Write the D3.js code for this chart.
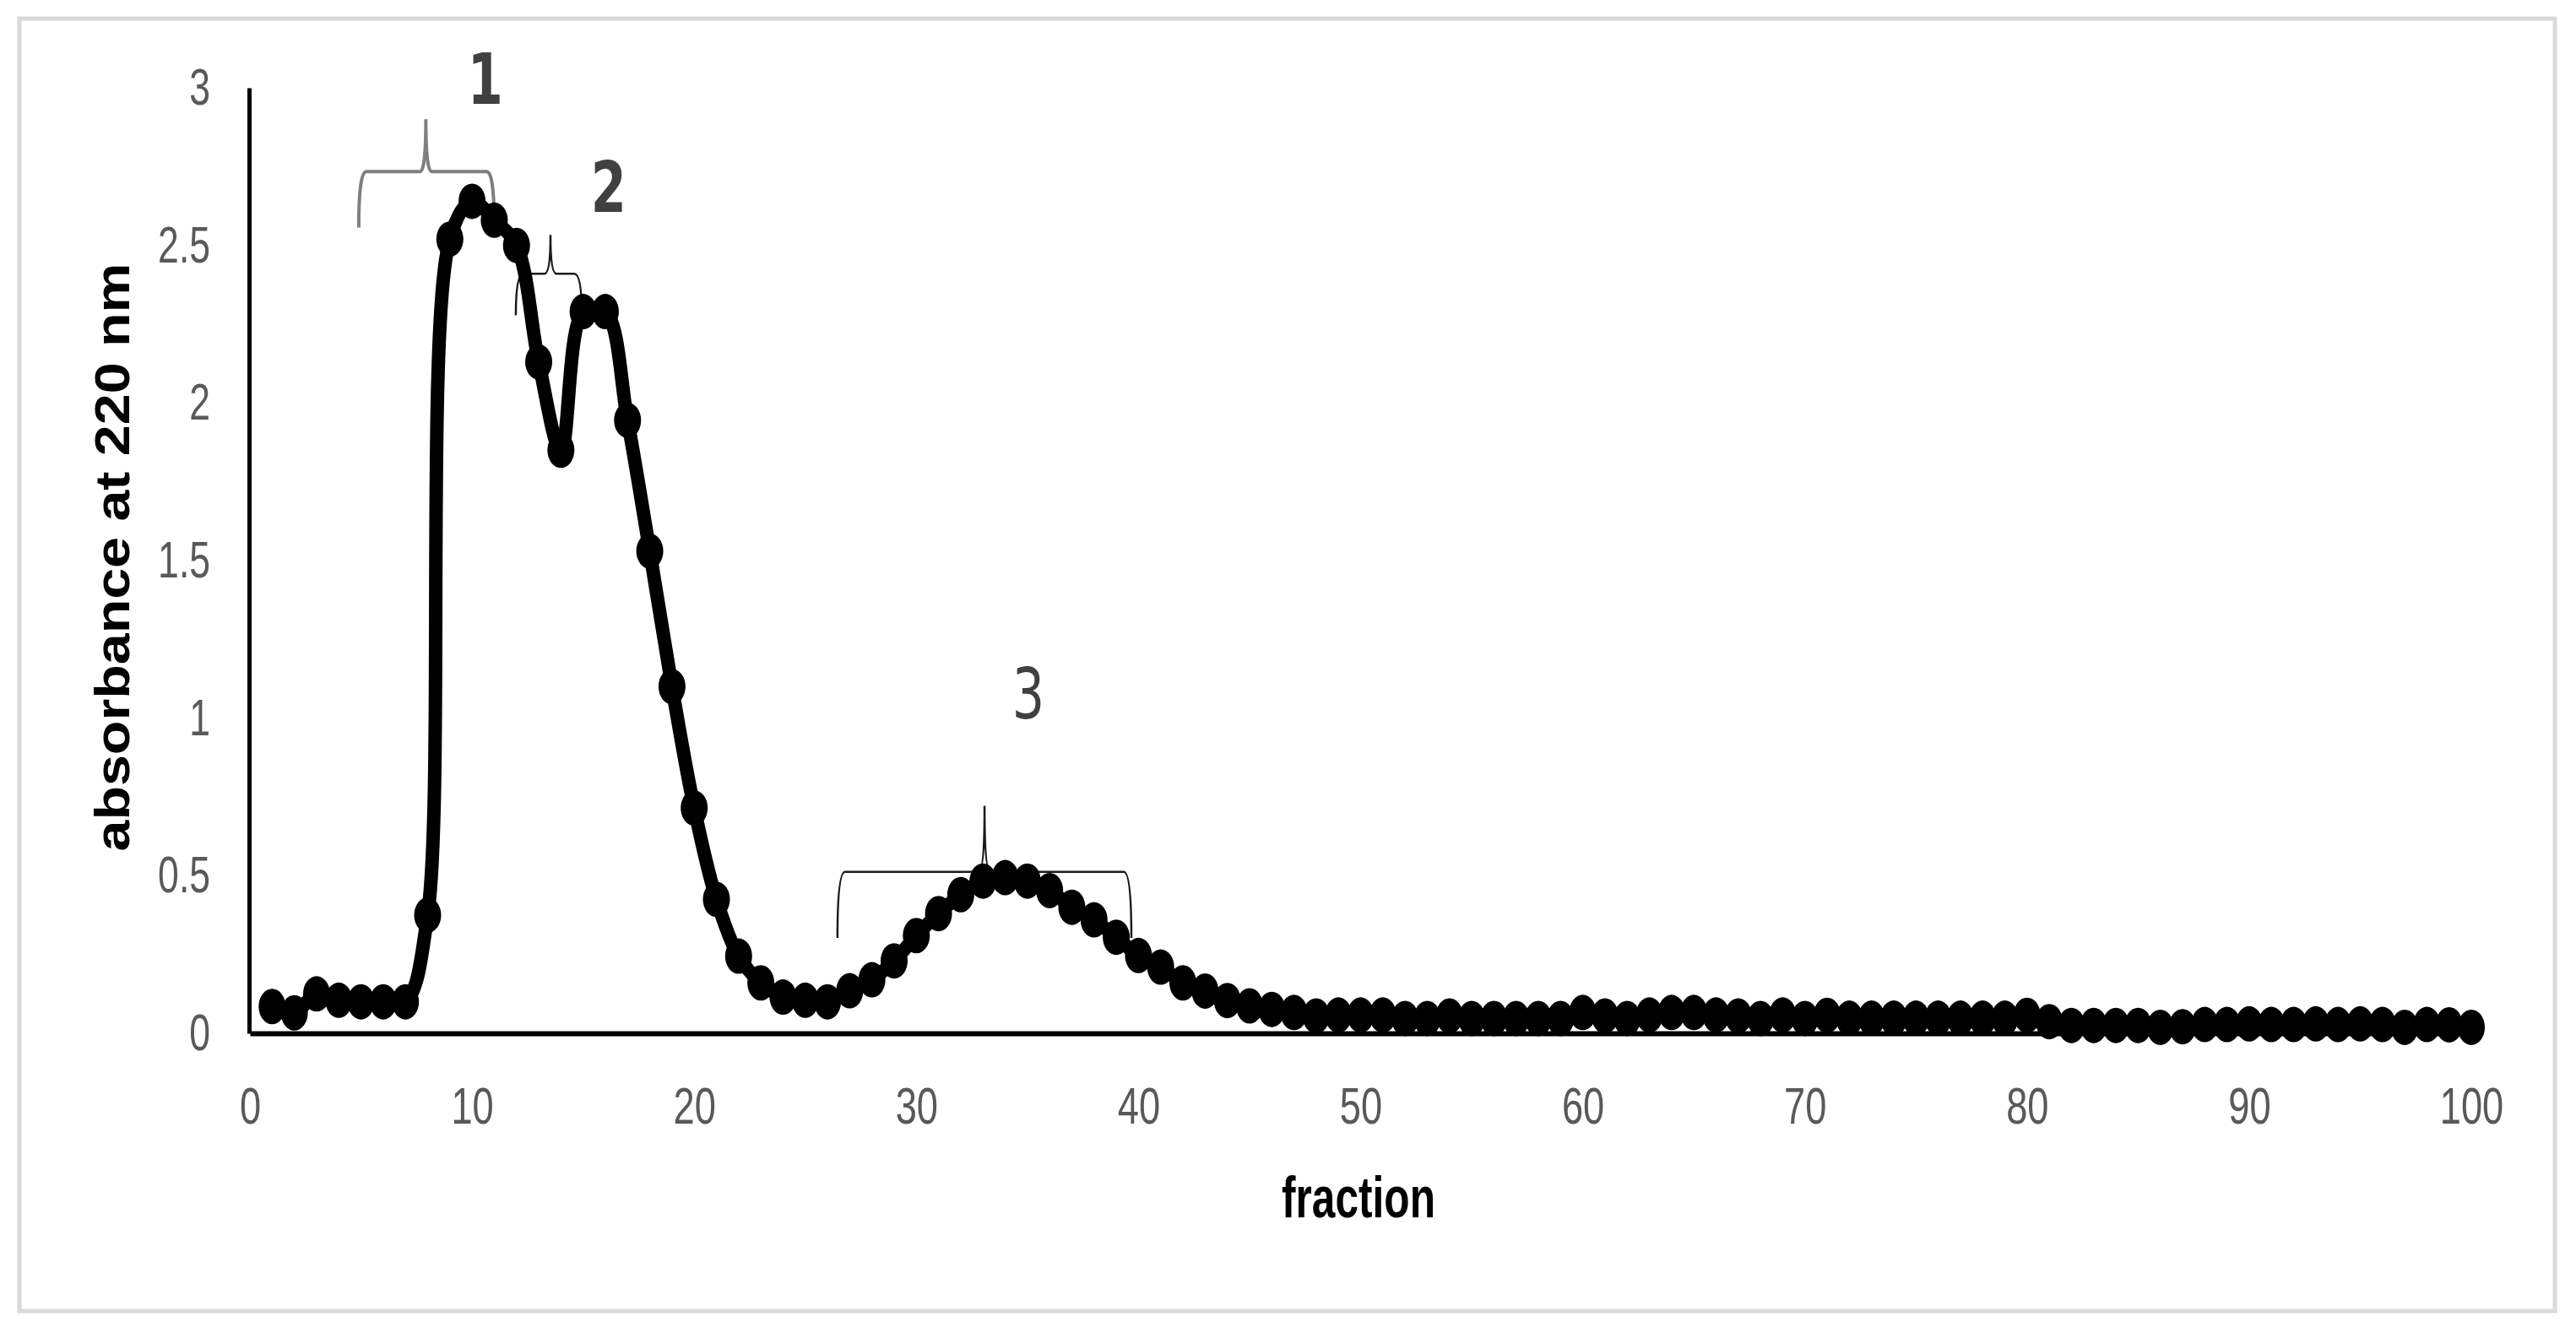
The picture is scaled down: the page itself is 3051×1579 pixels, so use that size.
<!DOCTYPE html>
<html>
<head>
<meta charset="utf-8">
<script src="https://cdn.jsdelivr.net/npm/d3@7/dist/d3.min.js"></script>
<style>
body { margin: 0; background: #fff; }
</style>
</head>
<body>
<script>
var w = 3051; // width of the picture
var h = 1579; // height of the picture

// fraction numbers (x) and absorbance at 220 nm (y)
var fractions = [
    1, 2, 3, 4, 5, 6, 7, 8, 9, 10,
    11, 12, 13, 14, 15, 16, 17, 18, 19, 20,
    21, 22, 23, 24, 25, 26, 27, 28, 29, 30,
    31, 32, 33, 34, 35, 36, 37, 38, 39, 40,
    41, 42, 43, 44, 45, 46, 47, 48, 49, 50,
    51, 52, 53, 54, 55, 56, 57, 58, 59, 60,
    61, 62, 63, 64, 65, 66, 67, 68, 69, 70,
    71, 72, 73, 74, 75, 76, 77, 78, 79, 80,
    81, 82, 83, 84, 85, 86, 87, 88, 89, 90,
    91, 92, 93, 94, 95, 96, 97, 98, 99, 100
];
var absorbance = [
    0.085, 0.065, 0.125, 0.105, 0.10, 0.10, 0.10, 0.375, 2.52, 2.64,
    2.58, 2.50, 2.13, 1.85, 2.29, 2.29, 1.945, 1.53, 1.10, 0.715,
    0.425, 0.245, 0.16, 0.115, 0.105, 0.10, 0.135, 0.17, 0.23, 0.31,
    0.38, 0.44, 0.483, 0.494, 0.483, 0.453, 0.40, 0.36, 0.305, 0.247,
    0.21, 0.16, 0.134, 0.104, 0.087, 0.076, 0.066, 0.055, 0.058, 0.058,
    0.058, 0.047, 0.047, 0.055, 0.047, 0.047, 0.047, 0.047, 0.047, 0.066,
    0.055, 0.047, 0.058, 0.066, 0.066, 0.058, 0.055, 0.047, 0.058, 0.047,
    0.057, 0.048, 0.048, 0.048, 0.048, 0.048, 0.048, 0.048, 0.048, 0.057,
    0.037, 0.025, 0.025, 0.025, 0.025, 0.019, 0.021, 0.028, 0.028, 0.030,
    0.028, 0.028, 0.030, 0.028, 0.030, 0.028, 0.019, 0.028, 0.027, 0.019
];

// axis ticks
var xTicks = [0, 10, 20, 30, 40, 50, 60, 70, 80, 90, 100];
var yTicks = [0, 0.5, 1, 1.5, 2, 2.5, 3];

// peak labels and their brackets (in data units)
var peakLabels = ["1", "2", "3"];
var labelX = [10.6, 16.15, 35.04];
var labelY = [2.95, 2.605, 0.998];
var braceFrom = [4.9, 11.97, 26.45];
var braceTo = [11.0, 14.94, 39.68];
var braceTip = [7.92, 13.53, 33.07];
var braceTop = [2.734, 2.41, 0.5125];
var bracePeak = [2.90, 2.533, 0.722];
var braceFoot = [2.557, 2.278, 0.303];

var data = fractions.map(function(f, i) { return { x: f, y: absorbance[i] }; });

// scales
var xScale = d3.scaleLinear().domain([0, 100]).range([296, 2927]);
var yScale = d3.scaleLinear().domain([0, 3]).range([1224, 104]);

var svg = d3.select("body")
    .append("svg")
    .attr("width", w)
    .attr("height", h);

svg.append("rect")
    .attr("width", w)
    .attr("height", h)
    .attr("fill", "#fff");

// light grey frame round the chart
svg.append("rect")
    .attr("x", 23)
    .attr("y", 22)
    .attr("width", 3003)
    .attr("height", 1531)
    .attr("fill", "none")
    .attr("stroke", "#d9d9d9")
    .attr("stroke-width", 5);

// y axis
var yAxis = d3.axisLeft(yScale)
    .tickValues(yTicks)
    .tickSize(0)
    .tickFormat(function(d) { return d; });

var gy = svg.append("g")
    .attr("transform", "translate(295,0)")
    .call(yAxis);
gy.select(".domain").attr("stroke", "#000").attr("stroke-width", 5);
gy.selectAll("text")
    .attr("x", -63)
    .attr("transform", "scale(0.73,1)")
    .attr("fill", "#595959")
    .style("font-family", "'Liberation Sans', Arial, sans-serif")
    .style("font-size", "61px");

// x axis
var xAxis = d3.axisBottom(xScale)
    .tickValues(xTicks)
    .tickSize(0)
    .tickFormat(function(d) { return d; });

var gx = svg.append("g")
    .attr("transform", "translate(0," + yScale(0) + ")")
    .call(xAxis);
gx.select(".domain").attr("stroke", "#000").attr("stroke-width", 6);
gx.selectAll("text")
    .attr("y", 63)
    .attr("transform", "scale(0.73,1)")
    .attr("fill", "#595959")
    .style("font-family", "'Liberation Sans', Arial, sans-serif")
    .style("font-size", "62px");

// axis titles
svg.append("text")
    .attr("transform", "translate(153,660) rotate(-90)")
    .attr("text-anchor", "middle")
    .attr("textLength", 697)
    .attr("lengthAdjust", "spacingAndGlyphs")
    .style("font-family", "'Liberation Sans', Arial, sans-serif")
    .style("font-weight", "bold")
    .style("font-size", "57px")
    .text("absorbance at 220 nm");

svg.append("text")
    .attr("x", 1609)
    .attr("y", 1442)
    .attr("text-anchor", "middle")
    .attr("textLength", 182)
    .attr("lengthAdjust", "spacingAndGlyphs")
    .style("font-family", "'Liberation Sans', Arial, sans-serif")
    .style("font-weight", "bold")
    .style("font-size", "68px")
    .text("fraction");

// brackets over the peaks
function bracePath(i) {
    var x0 = xScale(braceFrom[i]), x1 = xScale(braceTo[i]), xm = xScale(braceTip[i]);
    var yT = yScale(braceTop[i]), yP = yScale(bracePeak[i]), yB = yScale(braceFoot[i]);
    var c = 9, d = 7;
    return "M" + x0 + "," + yB +
        " Q" + x0 + "," + yT + " " + (x0 + c) + "," + yT +
        " L" + (xm - d) + "," + yT +
        " Q" + xm + "," + yT + " " + xm + "," + yP +
        " Q" + xm + "," + yT + " " + (xm + d) + "," + yT +
        " L" + (x1 - c) + "," + yT +
        " Q" + x1 + "," + yT + " " + x1 + "," + yB;
}

svg.selectAll(".brace")
    .data(peakLabels)
    .join("path")
    .attr("class", "brace")
    .attr("d", function(d, i) { return bracePath(i); })
    .attr("fill", "none")
    .attr("stroke", function(d, i) { return i === 0 ? "#7f7f7f" : "#1a1a1a"; })
    .attr("stroke-width", function(d, i) { return i === 0 ? 4 : 2.5; });

svg.selectAll(".peak-label")
    .data(peakLabels)
    .join("text")
    .attr("class", "peak-label")
    .attr("transform", function(d, i) {
        return "translate(" + xScale(labelX[i]) + "," + yScale(labelY[i]) + ") scale(0.72,1)";
    })
    .attr("text-anchor", "middle")
    .attr("fill", "#404040")
    .style("font-family", "'DejaVu Sans', sans-serif")
    .style("font-weight", function(d, i) { return i < 2 ? "bold" : "normal"; })
    .style("font-size", "84px")
    .text(function(d) { return d; });

// smoothed line
var line = d3.line()
    .x(function(d) { return xScale(d.x); })
    .y(function(d) { return yScale(d.y); })
    .curve(d3.curveCatmullRom.alpha(0.5));

svg.append("path")
    .datum(data)
    .attr("d", line)
    .attr("fill", "none")
    .attr("stroke", "#000")
    .attr("stroke-width", 16)
    .attr("stroke-linejoin", "round");

// markers
svg.selectAll(".dot")
    .data(data)
    .join("ellipse")
    .attr("class", "dot")
    .attr("cx", function(d) { return xScale(d.x); })
    .attr("cy", function(d) { return yScale(d.y); })
    .attr("rx", 16)
    .attr("ry", 21)
    .attr("fill", "#000");
</script>
</body>
</html>
